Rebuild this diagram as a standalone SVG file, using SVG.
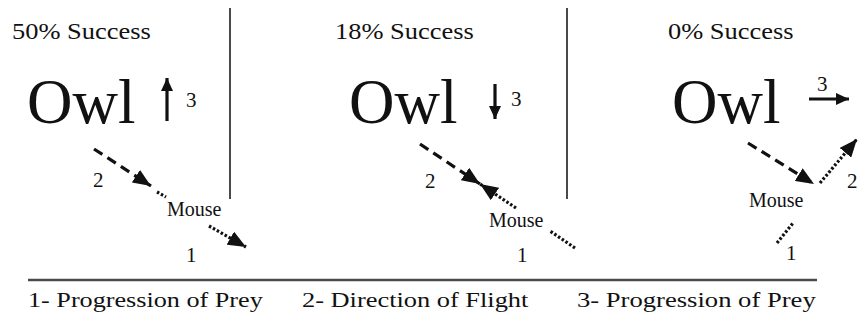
<svg xmlns="http://www.w3.org/2000/svg" width="861" height="325" viewBox="0 0 861 325">
<defs>
<marker id="head" markerUnits="userSpaceOnUse" markerWidth="19" markerHeight="15" refX="18" refY="7.5" orient="auto">
<path d="M0,0 L18,7.5 L0,15 z" fill="#111"/>
</marker>
<marker id="headsm" markerUnits="userSpaceOnUse" markerWidth="14" markerHeight="12" refX="13" refY="6" orient="auto">
<path d="M0,0 L13,6 L0,12 z" fill="#111"/>
</marker>
</defs>
<rect width="861" height="325" fill="#fff"/>
<g id="frame" stroke="#4a4a4a" stroke-width="2" fill="none">
<line x1="230" y1="8" x2="230" y2="199"/>
<line x1="567" y1="8" x2="567" y2="199"/>
<line x1="28" y1="280" x2="817" y2="280" stroke-width="2.5"/>
</g>
<g id="titles" fill="#111">
<text transform="translate(12,39) scale(1.15,1)" x="0" y="0" font-size="23" font-family="Liberation Serif">50% Success</text>
<text transform="translate(335,39) scale(1.15,1)" x="0" y="0" font-size="23" font-family="Liberation Serif">18% Success</text>
<text transform="translate(668,39) scale(1.15,1)" x="0" y="0" font-size="23" font-family="Liberation Serif">0% Success</text>
</g>
<g id="owl1" fill="#111"><text x="27" y="123" font-size="63" font-family="Liberation Serif">Owl</text></g>
<g id="owl2" fill="#111"><text x="349" y="123" font-size="63" font-family="Liberation Serif">Owl</text></g>
<g id="owl3" fill="#111"><text x="672" y="123" font-size="63" font-family="Liberation Serif">Owl</text></g>
<g id="mouse1" fill="#111"><text x="167" y="216" font-size="20" font-family="Liberation Serif">Mouse</text></g>
<g id="mouse2" fill="#111"><text x="489" y="227" font-size="20" font-family="Liberation Serif">Mouse</text></g>
<g id="mouse3" fill="#111"><text x="749" y="207" font-size="20" font-family="Liberation Serif">Mouse</text></g>
<g id="labels" fill="#111">
<text x="186" y="107" font-size="21" font-family="Liberation Serif">3</text>
<text x="93" y="187" font-size="21" font-family="Liberation Serif">2</text>
<text x="186" y="262" font-size="21" font-family="Liberation Serif">1</text>
<text x="511" y="106" font-size="21" font-family="Liberation Serif">3</text>
<text x="425" y="188" font-size="21" font-family="Liberation Serif">2</text>
<text x="517" y="262" font-size="21" font-family="Liberation Serif">1</text>
<text x="817" y="91" font-size="21" font-family="Liberation Serif">3</text>
<text x="847" y="188" font-size="21" font-family="Liberation Serif">2</text>
<text x="786" y="260" font-size="21" font-family="Liberation Serif">1</text>
</g>
<g id="connectors" fill="none" stroke="#111" stroke-width="3.2">
<line x1="167" y1="121" x2="167" y2="78" marker-end="url(#headsm)"/>
<line x1="495" y1="84" x2="495" y2="119" marker-end="url(#headsm)"/>
<line x1="809" y1="99" x2="849" y2="99" marker-end="url(#headsm)"/>
<line stroke-dasharray="10 6" x1="94" y1="149" x2="151" y2="186" marker-end="url(#head)"/>
<line stroke-dasharray="10 6" x1="420" y1="144" x2="480" y2="184" marker-end="url(#head)"/>
<line stroke-dasharray="10 6" x1="748" y1="143" x2="814" y2="184" marker-end="url(#head)"/>
<line stroke-dasharray="2.5 2" x1="157" y1="192" x2="166" y2="197"/>
<line stroke-dasharray="2.5 2" x1="209" y1="226" x2="246" y2="247" marker-end="url(#head)"/>
<line stroke-dasharray="2.5 2" x1="575" y1="248" x2="550" y2="231"/>
<line stroke-dasharray="2.5 2" x1="516" y1="208" x2="480" y2="184" marker-end="url(#head)"/>
<line stroke-dasharray="2.5 2" x1="777" y1="243" x2="793" y2="223"/>
<line stroke-dasharray="2.5 2" x1="820" y1="183" x2="857" y2="139" marker-end="url(#head)"/>
</g>
<g id="legend" fill="#111">
<text transform="translate(28,307) scale(1.19,1)" x="0" y="0" font-size="22" font-family="Liberation Serif">1- Progression of Prey</text>
<text transform="translate(302,307) scale(1.2,1)" x="0" y="0" font-size="22" font-family="Liberation Serif">2- Direction of Flight</text>
<text transform="translate(577,307) scale(1.21,1)" x="0" y="0" font-size="22" font-family="Liberation Serif">3- Progression of Prey</text>
</g>
</svg>
